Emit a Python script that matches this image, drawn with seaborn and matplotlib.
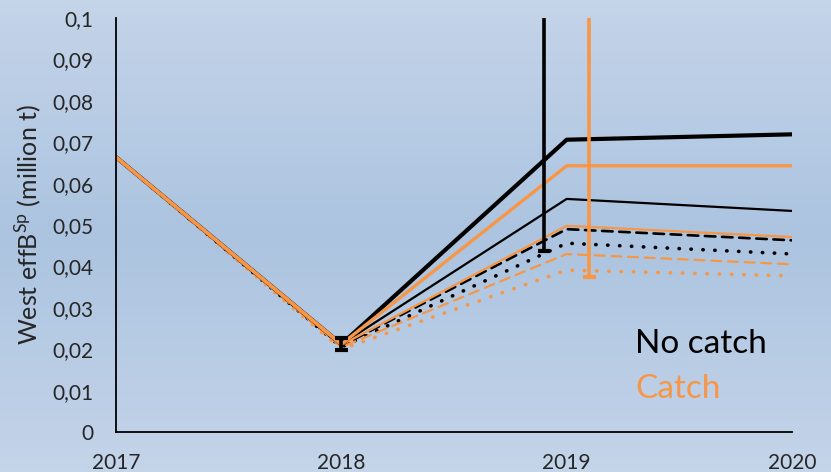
import numpy as np
import pandas as pd
import matplotlib.pyplot as plt
import matplotlib as mpl
import seaborn as sns

# Data
years = [2017, 2018, 2019, 2020]
year_labels = ["2017", "2018", "2019", "2020"]

no_catch_high = [0.0664, 0.0212, 0.0706, 0.0719]
no_catch_mid = [0.0664, 0.0212, 0.0563, 0.0534]
no_catch_dash = [0.0664, 0.0208, 0.0490, 0.0463]
no_catch_dot = [0.0664, 0.0205, 0.0456, 0.0430]

catch_high = [0.0664, 0.0212, 0.0643, 0.0643]
catch_mid = [0.0664, 0.0210, 0.0498, 0.0471]
catch_dash = [0.0664, 0.0205, 0.0430, 0.0405]
catch_dot = [0.0664, 0.0200, 0.0391, 0.0377]

# error bars: x position, lower, upper
err_x = [2018.0, 2018.9, 2019.1]
err_low = [0.0199, 0.0437, 0.0375]
err_high = [0.0227, 0.1200, 0.1200]
err_colors = ["black", "black", "#F79646"]

yticks = [0, 0.01, 0.02, 0.03, 0.04, 0.05, 0.06, 0.07, 0.08, 0.09, 0.1]

ORANGE = "#F79646"

sns.set_style("white")
plt.rcParams["font.family"] = ["Lato", "DejaVu Sans"]
plt.rcParams["mathtext.fontset"] = "custom"
plt.rcParams["mathtext.rm"] = "Lato"

fig = plt.figure(figsize=(8.31, 4.72), dpi=100)

# gradient background like the slide
bg = fig.add_axes([0, 0, 1, 1], zorder=-10)
top = np.array([196, 212, 233]) / 255
mid = np.array([172, 196, 224]) / 255
grad = np.concatenate([np.linspace(0, 1, 50), np.linspace(1, 0, 50)])[:, None]
img = top[None, None, :] * (1 - grad[:, :, None]) + mid[None, None, :] * grad[:, :, None]
bg.imshow(img, aspect="auto", extent=[0, 1, 0, 1])
bg.axis("off")

ax = fig.add_axes([116 / 831, 40 / 472, 676 / 831, 414 / 472])
ax.patch.set_alpha(0)

series = [
    (no_catch_mid, "black", 1.6, "-"),
    (no_catch_dash, "black", 1.9, (0, (4, 2.5))),
    (no_catch_dot, "black", 2.6, (0, (0.1, 3.2))),
    (catch_mid, ORANGE, 1.6, "-"),
    (catch_dash, ORANGE, 1.6, (0, (4.5, 3))),
    (catch_dot, ORANGE, 2.6, (0, (0.1, 3.3))),
    (no_catch_high, "black", 3.0, "-"),
    (catch_high, ORANGE, 2.4, "-"),
]

for vals, col, lw, ls in series:
    df = pd.DataFrame({"year": years, "value": vals})
    sns.lineplot(data=df, x="year", y="value", ax=ax, color=col, linewidth=lw,
                 linestyle=ls, dash_capstyle="round", solid_capstyle="butt")

# common history line drawn on top
hist = pd.DataFrame({"year": years[:2], "value": catch_high[:2]})
sns.lineplot(data=hist, x="year", y="value", ax=ax, color=ORANGE, linewidth=2.6)

for x, lo, hi, col in zip(err_x, err_low, err_high, err_colors):
    ax.vlines(x, lo, hi, color=col, linewidth=2.6, zorder=5)
    ax.hlines(lo, x - 0.028, x + 0.028, color=col, linewidth=3, zorder=5)
ax.hlines(err_high[0], err_x[0] - 0.028, err_x[0] + 0.028, color="black", linewidth=3, zorder=5)

ax.set_xlim(2017, 2020)
ax.set_ylim(0, 0.1)
ax.set_xticks(years)
ax.set_xticklabels(year_labels, fontsize=15)
ax.set_yticks(yticks)
ax.set_yticklabels([("%g" % t).replace(".", ",") for t in yticks], fontsize=15)
ax.tick_params(axis="both", length=0)
ax.tick_params(axis="x", pad=15)
ax.tick_params(axis="y", pad=16)
ax.set_xlabel("")
ax.set_ylabel(r"West effB$^{\mathrm{Sp}}$ (million t)", fontsize=18, labelpad=6)

for s in ["top", "right"]:
    ax.spines[s].set_visible(False)
for s in ["left", "bottom"]:
    ax.spines[s].set_color("black")
    ax.spines[s].set_linewidth(1.3)

ax.text(0.768, 0.19, "No catch", transform=ax.transAxes, fontsize=24, color="black")
ax.text(0.768, 0.082, "Catch", transform=ax.transAxes, fontsize=24, color=ORANGE)

fig.savefig("out.png", dpi=100)
